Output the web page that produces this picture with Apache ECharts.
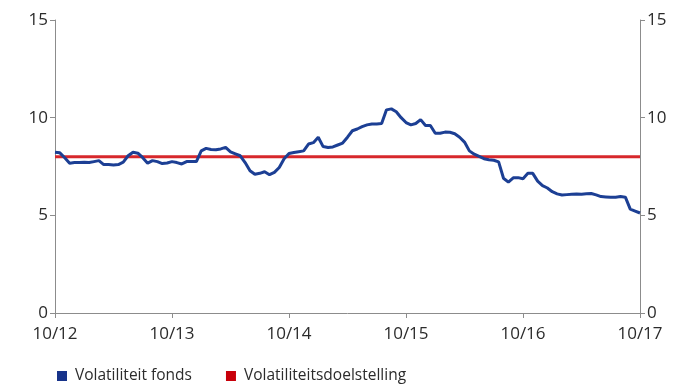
<!DOCTYPE html>
<html>
<head>
<meta charset="utf-8">
<script src="https://cdn.jsdelivr.net/npm/echarts@6/dist/echarts.min.js"></script>
<style>
  html, body { margin: 0; padding: 0; background: #fff; }
  #chart { width: 686px; height: 385px; }
</style>
</head>
<body>
<div id="chart"></div>
<script>
// Tick labels for the yearly x-axis ticks (month/year)
const tickLabels = ['10/12', '10/13', '10/14', '10/15', '10/16', '10/17'];

// Fund volatility (%), one reading every half month from 10/2012 to 10/2017
const fundVolatility = [
  8.23, 8.2, 7.95, 7.67, 7.7, 7.7, 7.72, 7.7, 7.75, 7.8,
  7.6, 7.6, 7.58, 7.6, 7.72, 8.05, 8.23, 8.18, 7.95, 7.67,
  7.8, 7.75, 7.65, 7.68, 7.75, 7.7, 7.63, 7.75, 7.75, 7.75,
  8.3, 8.43, 8.37, 8.36, 8.4, 8.48, 8.25, 8.15, 8.05, 7.7,
  7.28, 7.1, 7.15, 7.23, 7.08, 7.2, 7.45, 7.9, 8.17, 8.22,
  8.26, 8.3, 8.65, 8.72, 9.0, 8.52, 8.47, 8.5, 8.6, 8.7,
  9.0, 9.33, 9.42, 9.54, 9.63, 9.68, 9.68, 9.7, 10.4, 10.45,
  10.3, 10.0, 9.75, 9.63, 9.7, 9.9, 9.6, 9.6, 9.2, 9.2,
  9.26, 9.25, 9.18, 9.0, 8.75, 8.3, 8.13, 8.02, 7.9, 7.85,
  7.82, 7.74, 6.9, 6.7, 6.92, 6.93, 6.87, 7.15, 7.15, 6.75,
  6.52, 6.4, 6.21, 6.1, 6.04, 6.06, 6.08, 6.09, 6.08, 6.1,
  6.12, 6.05, 5.96, 5.94, 5.92, 5.93, 5.96, 5.93, 5.32, 5.22,
  5.12
];

// Volatility target (%), constant over the whole period
const volatilityTarget = 8;

const seriesNames = ['Volatiliteit fonds', 'Volatiliteitsdoelstelling'];
const monthsPerStep = 0.5;
const totalMonths = 60;

const fundData = fundVolatility.map((v, i) => [i * monthsPerStep, v]);
const targetData = [[0, volatilityTarget], [totalMonths, volatilityTarget]];

const FONT = '"Open Sans", "Noto Sans", sans-serif';
const axisGray = '#8c8c8c';
const textColor = '#2b2b2b';

const yAxisCommon = {
  type: 'value',
  min: 0,
  max: 15,
  interval: 5,
  axisLine: { show: true, lineStyle: { color: axisGray, width: 1 } },
  axisTick: { show: true, length: 5, lineStyle: { color: axisGray } },
  splitLine: { show: false },
  axisLabel: { color: textColor, fontFamily: FONT, fontSize: 17, margin: 7 }
};

const chart = echarts.init(document.getElementById('chart'), null, { renderer: 'canvas' });
chart.setOption({
  animation: false,
  backgroundColor: '#ffffff',
  grid: { left: 55, right: 46, top: 20, bottom: 72, containLabel: false },
  xAxis: {
    type: 'value',
    min: 0,
    max: totalMonths,
    interval: 12,
    axisLine: { onZero: false, lineStyle: { color: axisGray, width: 1 } },
    axisTick: { show: true, length: 5, lineStyle: { color: axisGray } },
    splitLine: { show: false },
    axisLabel: {
      color: textColor, fontFamily: FONT, fontSize: 17, margin: 13,
      showMinLabel: true, showMaxLabel: true,
      formatter: v => tickLabels[Math.round(v / 12)]
    }
  },
  yAxis: [
    Object.assign({}, yAxisCommon, { position: 'left' }),
    Object.assign({}, yAxisCommon, { position: 'right' })
  ],
  legend: {
    left: 57,
    top: 368,
    padding: 0,
    itemWidth: 10,
    itemHeight: 10,
    itemGap: 34,
    icon: 'rect',
    textStyle: { color: textColor, fontFamily: FONT, fontSize: 15.5, padding: [0, 0, 0, 3] },
    data: seriesNames
  },
  series: [
    {
      name: seriesNames[1],
      type: 'line',
      data: targetData,
      symbol: 'none',
      lineStyle: { color: '#d7272b', width: 3 },
      itemStyle: { color: '#c8000a' },
      z: 2
    },
    {
      name: seriesNames[0],
      type: 'line',
      data: fundData,
      symbol: 'none',
      lineStyle: { color: '#1c3f94', width: 3 },
      itemStyle: { color: '#17338a' },
      z: 3
    }
  ]
});
</script>
</body>
</html>
